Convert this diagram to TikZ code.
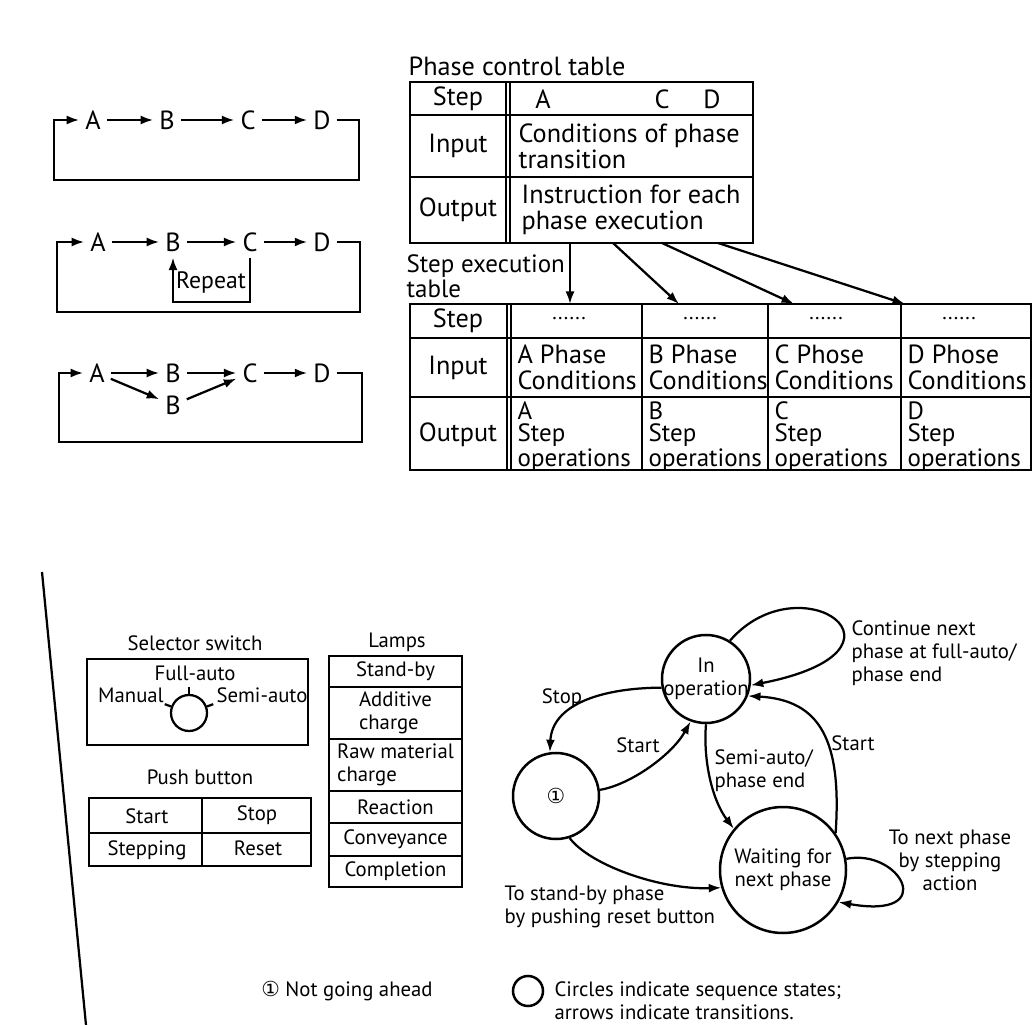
\documentclass[tikz,border=0pt]{standalone}
\usepackage{fontspec}
\setmainfont{PT Sans}
\newfontfamily\circfont{DejaVu Sans}
\usetikzlibrary{arrows.meta,positioning,calc}

\begin{document}
\begin{tikzpicture}[x=0.4pt, y=-0.4pt, line width=0.9pt,
    arr/.style={-{Latex[length=5pt,width=3.6pt]}},
    toptxt/.style={font=\fontsize{10.5}{10.5}\selectfont, inner sep=1pt},
    bottxt/.style={font=\fontsize{8.3}{9.2}\selectfont, inner sep=1pt},
    letter/.style={toptxt, inner sep=2pt},
    lamp/.style={draw, bottxt, minimum width=53.2pt, align=left},
    state/.style={draw, circle, bottxt, align=center, inner sep=-3pt, line width=1pt}]

\useasboundingbox (0,0) rectangle (1034,1025);

% Sequence 1: plain cycle
\node[letter] (a1) at (93,120) {A};
\node[letter] (b1) at (167,120) {B};
\node[letter] (c1) at (248,120) {C};
\node[letter] (d1) at (322,120) {D};
\draw[arr] (a1) -- (b1);
\draw[arr] (b1) -- (c1);
\draw[arr] (c1) -- (d1);
\draw[arr] (d1.east) -- ++(22,0) |- ++(-305,60) |- (a1.west);

% Sequence 2: repeat B-C
\node[letter] (a2) at (98,242) {A};
\node[letter] (b2) at (173,242) {B};
\node[letter] (c2) at (250,242) {C};
\node[letter] (d2) at (322,242) {D};
\draw[arr] (a2) -- (b2);
\draw[arr] (b2) -- (c2);
\draw[arr] (c2) -- (d2);
\draw[arr] (d2.east) -- ++(23,0) |- ++(-303,70) |- (a2.west);
\draw[arr] (c2.south) -- ++(0,44) -| (b2.south);
\node[toptxt, font=\fontsize{9.5}{9.5}\selectfont] (rep) at (211,282) {Repeat};

% Sequence 3: parallel B
\node[letter] (a3) at (97,373) {A};
\node[letter] (b3) at (173,373) {B};
\node[letter] (c3) at (250,373) {C};
\node[letter] (d3) at (322,373) {D};
\node[letter] (b3l) at (173,405) {B};
\draw[arr] (a3) -- (b3);
\draw[arr] (b3) -- (c3);
\draw[arr] (c3) -- (d3);
\draw[arr] (a3) -- (b3l);
\draw[arr] (b3l) -- (c3);
\draw[arr] (d3.east) -- ++(25,0) |- ++(-303,69) |- (a3.west);

% Phase control table
\node[toptxt, anchor=west] (pctitle) at (405,66) {Phase control table};
\draw (410,82) rectangle (753,243);
\draw (410,115) -- (753,115) (410,177) -- (753,177);
\draw (506,82) -- (506,243) (510,82) -- (510,243);
\node[toptxt] (pcstep) at (458,99) {Step};
\node[toptxt] (pca) at (543,99) {A};
\node[toptxt] (pcc) at (662,99) {C};
\node[toptxt] (pcd) at (712,99) {D};
\node[toptxt] (pcin) at (458,146) {Input};
\node[toptxt, anchor=west, align=left] (pccond) at (515,146) {Conditions of phase\\transition};
\node[toptxt] (pcout) at (458,210) {Output};
\node[toptxt, anchor=west, align=left] (pcinst) at (518,210) {Instruction for each\\phase execution};

% Step execution table
\node[toptxt, font=\fontsize{10}{10}\selectfont, anchor=west, align=left] (settitle) at (403,276) {Step execution\\table};
\draw (410,304) rectangle (1031,470);
\draw (410,338) -- (1031,338) (410,397) -- (1031,397);
\draw (507,304) -- (507,470) (511,304) -- (511,470);
\node[toptxt] (sestep) at (458,321) {Step};
\node[toptxt] (sein) at (458,368) {Input};
\node[toptxt] (seout) at (458,435) {Output};
\foreach \x/\p/\w in {511/A/Phase, 642/B/Phase, 768/C/Phose, 901/D/Phose} {
  \draw (\x,304) -- (\x,470);
  \node[bottxt] (dots\p) at (\x+58,319) {......};
  \node[toptxt, anchor=west, align=left] (in\p) at (\x+3,367) {\p\ \w\\Conditions};
  \node[toptxt, font=\fontsize{10}{8.7}\selectfont, anchor=west, align=left] (out\p) at (\x+3,437) {\p\\Step\\operations};
}

% links from phase table to step table
\foreach \i/\s/\e in {1/570/570, 2/613/679, 3/662/794, 4/718/905} {
  \coordinate (pcb\i) at (\s,243);
  \coordinate (set\i) at (\e,304);
  \draw[arr] (pcb\i) -- (set\i);
}

% Lower panel edge
\draw (42,572) -- (86,1025);

% Selector switch
\node[bottxt] (seltitle) at (195,643) {Selector switch};
\draw (87,659) rectangle (308,745);
\node[bottxt] (full) at (195,673) {Full-auto};
\node[bottxt] (manual) at (131,695) {Manual};
\node[bottxt] (semi) at (262,695) {Semi-auto};
\node[draw, circle, minimum size=14.4pt, inner sep=0pt] (knob) at (189,713) {};
\foreach \a in {20,90,160}
  \draw (knob.\a) -- ($(knob.center)!1.35!(knob.\a)$);

% Push buttons
\node[bottxt] (pushtitle) at (200,777) {Push button};
\draw (89,798) rectangle (311,866);
\draw (89,833) -- (311,833) (202,798) -- (202,866);
\node[bottxt] (pbstart) at (147,816) {Start};
\node[bottxt] (pbstop) at (257,815) {Stop};
\node[bottxt] (pbstepping) at (147,850) {Stepping};
\node[bottxt] (pbreset) at (258,848) {Reset};

% Lamps
\node[bottxt] (lamptitle) at (397,642) {Lamps};
\node[lamp, minimum height=12.4pt] (standby) at (395.5,671.5) {Stand-by};
\node[lamp, minimum height=20.8pt] (additive) at (395.5,713) {Additive\\charge};
\node[lamp, minimum height=20.8pt] (rawmat) at (395.5,765) {Raw material\\charge};
\node[lamp, minimum height=12.8pt] (reaction) at (395.5,807) {Reaction};
\node[lamp, minimum height=13.2pt] (convey) at (395.5,839.5) {Conveyance};
\node[lamp, minimum height=12.4pt] (complete) at (395.5,871.5) {Completion};

% State diagram
\node[state, minimum size=35.2pt] (inop) at (706,679) {In\\operation};
\node[state, minimum size=34.4pt] (one) at (556,796) {\circfont ①};
\node[state, minimum size=50.4pt] (wait) at (783,870) {Waiting for\\next phase};

\draw[arr] (inop.58) .. controls (800,560) and (930,650) .. (inop.-8);
\draw[arr] (inop.191) .. controls (600,688) and (552,705) .. (one.98);
\draw[arr] (one.8) .. controls (630,785) and (672,755) .. (inop.250);
\draw[arr] (inop.270) .. controls (703,760) and (712,800) .. (wait.140);
\draw[arr] (wait.35) .. controls (842,740) and (820,700) .. (inop.-22);
\draw[arr] (one.288) .. controls (590,865) and (660,890) .. (wait.196);
\draw[arr] (wait.10) .. controls (900,848) and (940,920) .. (wait.-30);

\node[bottxt, anchor=west, align=left] (lcont) at (848,653) {Continue next\\phase at full-auto/\\phase end};
\node[bottxt] (lstop) at (562,698) {Stop};
\node[bottxt] (lstart) at (638,745) {Start};
\node[bottxt, anchor=west, align=left] (lsemi) at (711,771) {Semi-auto/\\phase end};
\node[bottxt] (lrestart) at (853,743) {Start};
\node[bottxt, anchor=west, align=left] (lreset) at (501,907) {To stand-by phase\\by pushing reset button};
\node[bottxt, align=center] (lstepping) at (950,860) {To next phase\\by stepping\\action};

% Notes
\node[bottxt] (notone) at (347,991) {{\circfont ①} Not going ahead};
\node[draw, circle, minimum size=12pt, inner sep=0pt, line width=1pt] (legcirc) at (528,991) {};
\node[bottxt, anchor=west, align=left] (legtext) at (551,1001) {Circles indicate sequence states;\\arrows indicate transitions.};

\end{tikzpicture}
\end{document}
